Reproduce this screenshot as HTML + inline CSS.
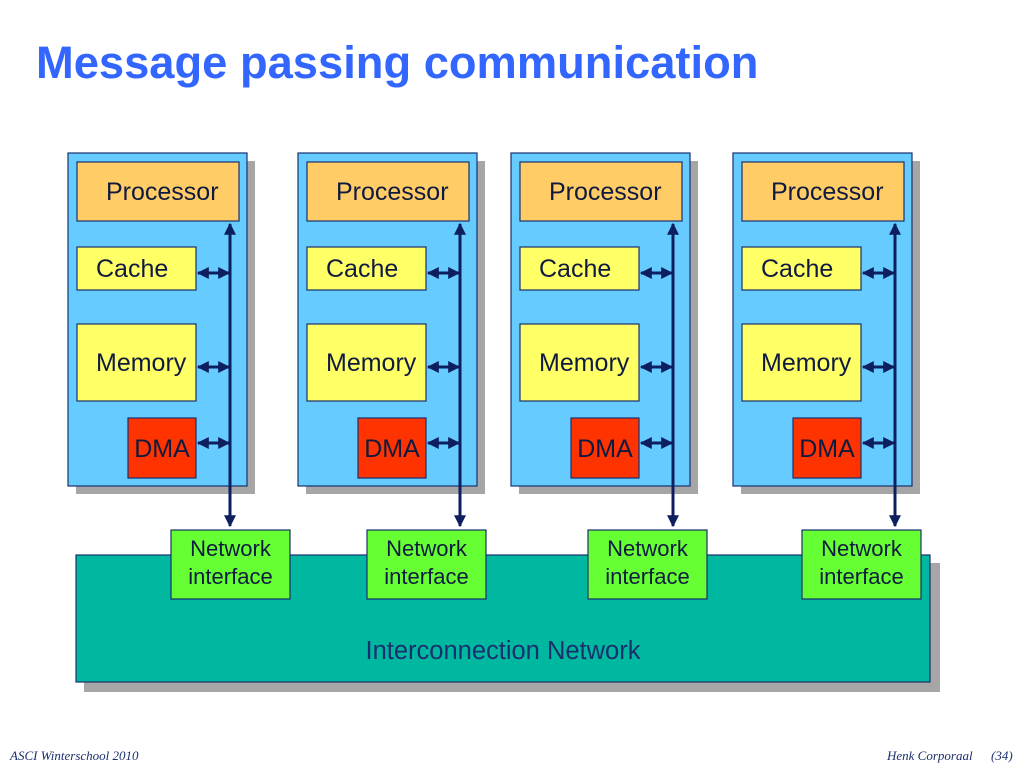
<!DOCTYPE html>
<html><head><meta charset="utf-8"><style>
html,body{margin:0;padding:0;background:#fff;}
svg{display:block;}
</style></head><body>
<svg width="1024" height="768" viewBox="0 0 1024 768" xmlns="http://www.w3.org/2000/svg" font-family="Liberation Sans, sans-serif">
<defs>
<marker id="ah" viewBox="0 0 10 10" refX="9" refY="5" markerWidth="4.5" markerHeight="4" orient="auto-start-reverse" markerUnits="strokeWidth">
<path d="M0,0 L10,5 L0,10 z" fill="#0d1f5e"/>
</marker>
<g id="panel">
<rect x="76" y="161" width="179" height="333" fill="#a6a6a6"/>
<rect x="68" y="153" width="179" height="333" fill="#66ccff" stroke="#1a2f6e" stroke-width="1.2"/>
<rect x="77" y="162" width="162" height="59" fill="#ffcc66" stroke="#1a2f6e" stroke-width="1.2"/>
<text x="106" y="200" font-size="25" fill="#0f1a40">Processor</text>
<rect x="77" y="247" width="119" height="43" fill="#ffff66" stroke="#1a2f6e" stroke-width="1.2"/>
<text x="96" y="277" font-size="25" fill="#0f1a40">Cache</text>
<rect x="77" y="324" width="119" height="77" fill="#ffff66" stroke="#1a2f6e" stroke-width="1.2"/>
<text x="96" y="371" font-size="25" fill="#0f1a40">Memory</text>
<rect x="128" y="418" width="68" height="60" fill="#ff3300" stroke="#1a2f6e" stroke-width="1.2"/>
<text x="162" y="457" font-size="25" text-anchor="middle" fill="#0f1a40">DMA</text>
<line x1="230" y1="224" x2="230" y2="526" stroke="#0d1f5e" stroke-width="3" marker-start="url(#ah)" marker-end="url(#ah)"/>
<line x1="198" y1="273" x2="229" y2="273" stroke="#0d1f5e" stroke-width="3" marker-start="url(#ah)" marker-end="url(#ah)"/>
<line x1="198" y1="367" x2="229" y2="367" stroke="#0d1f5e" stroke-width="3" marker-start="url(#ah)" marker-end="url(#ah)"/>
<line x1="198" y1="443" x2="229" y2="443" stroke="#0d1f5e" stroke-width="3" marker-start="url(#ah)" marker-end="url(#ah)"/>
</g>
<g id="ni">
<rect x="0" y="530" width="119" height="69" fill="#66ff33" stroke="#1a2f6e" stroke-width="1.2"/>
<text x="59.5" y="556" font-size="22" text-anchor="middle" fill="#0f1a40">Network</text>
<text x="59.5" y="584" font-size="22" text-anchor="middle" fill="#0f1a40">interface</text>
</g>
</defs>
<text x="36" y="78" font-size="45.3" font-weight="bold" fill="#3366ff">Message passing communication</text>
<use href="#panel"/>
<use href="#panel" transform="translate(230,0)"/>
<use href="#panel" transform="translate(443,0)"/>
<use href="#panel" transform="translate(665,0)"/>
<rect x="84" y="563" width="856" height="129" fill="#a6a6a6"/>
<rect x="76" y="555" width="854" height="127" fill="#00b8a0" stroke="#1a2f6e" stroke-width="1.2"/>
<text x="503" y="659" font-size="25.5" text-anchor="middle" fill="#1a2f6e">Interconnection Network</text>
<use href="#ni" transform="translate(171,0)"/>
<use href="#ni" transform="translate(367,0)"/>
<use href="#ni" transform="translate(588,0)"/>
<use href="#ni" transform="translate(802,0)"/>
<text x="10" y="760" font-size="13" font-style="italic" font-family="Liberation Serif, serif" fill="#1a2f6e">ASCI Winterschool 2010</text>
<text x="887" y="760" font-size="13" font-style="italic" font-family="Liberation Serif, serif" fill="#1a2f6e">Henk Corporaal</text>
<text x="991" y="760" font-size="13" font-style="italic" font-family="Liberation Serif, serif" fill="#1a2f6e">(34)</text>
</svg>
</body></html>
